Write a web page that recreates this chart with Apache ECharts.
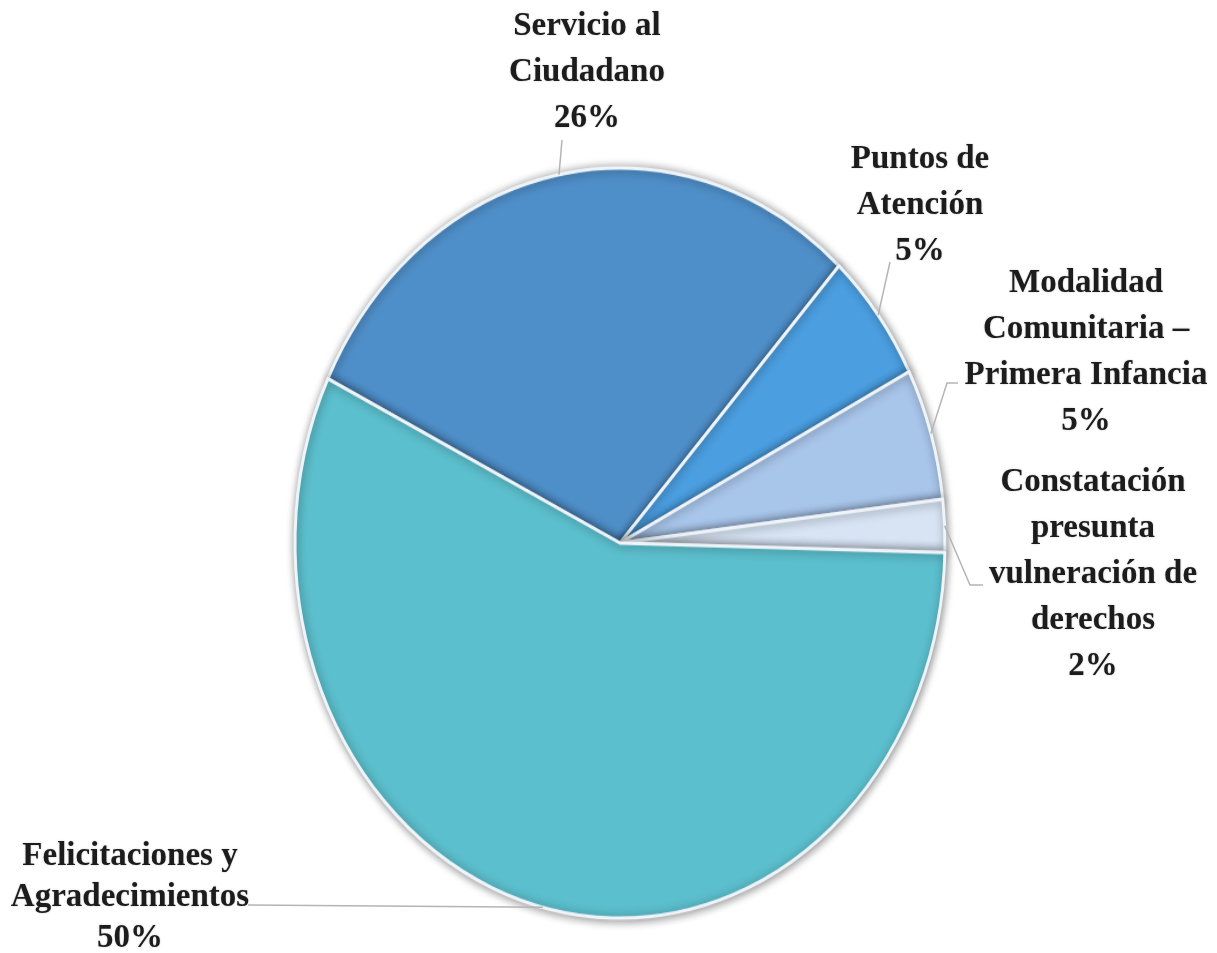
<!DOCTYPE html>
<html><head><meta charset="utf-8">
<script src="https://cdn.jsdelivr.net/npm/echarts@6/dist/echarts.min.js"></script>
<style>
html,body{margin:0;padding:0;background:#fff;}
#wrap{position:relative;width:1217px;height:953px;overflow:hidden;}
#pie{position:absolute;left:0;top:0;width:1217px;height:953px;transform-origin:620px 543px;transform:scaleY(1.154);}
#labels{position:absolute;left:0;top:0;width:1217px;height:953px;}
</style></head><body>
<div id="wrap"><div id="pie"></div><div id="labels"></div></div>
<script>
// ---- data ----
const categories = ['Servicio al\nCiudadano', 'Puntos de\nAtención', 'Modalidad\nComunitaria –\nPrimera Infancia', 'Constatación\npresunta\nvulneración de\nderechos', 'Felicitaciones y\nAgradecimientos'];
const values = [26, 5, 5, 2, 50];

// ---- styles / layout ----
const sliceColors = ['#4f8fc9', '#4b9ee0', '#a8c5ea', '#d8e4f4', '#5cbfcd'];
const CX = 620, CY = 543, R = 325, SY = 1.154, START = 154;
const labelLayoutPos = {
  center: [[587, 72], [920, 205], [1086, 352], [1093, 574], [130, 897]],
  elbow:  [[562, 140], [890, 262], [947, 383], [970, 585], [248, 905]],
  end:    [[562, 140], [890, 262], [958, 383], [983, 585], [248, 905]],
  lineHeight: [46, 46, 46, 46, 41]
};

const total = values.reduce((a, b) => a + b, 0);
function edgePoint(i) {
  let acc = 0;
  for (let k = 0; k < i; k++) acc += values[k];
  const mid = (START - (acc + values[i] / 2) / total * 360) * Math.PI / 180;
  return [CX + R * Math.cos(mid), CY - R * Math.sin(mid)];
}

const pieData = categories.map((c, i) => ({ name: c, value: values[i], itemStyle: { color: sliceColors[i] } }));

const pieChart = echarts.init(document.getElementById('pie'), null, { renderer: 'canvas' });
pieChart.setOption({
  animation: false,
  series: [{
    type: 'pie',
    center: [CX, CY],
    radius: R,
    startAngle: START,
    clockwise: true,
    avoidLabelOverlap: false,
    label: { show: false },
    labelLine: { show: false },
    itemStyle: {
      borderColor: '#eef4f9',
      borderWidth: 3,
      shadowBlur: 8,
      shadowColor: 'rgba(0,0,0,0.45)',
      shadowOffsetX: 1,
      shadowOffsetY: 1
    },
    emphasis: { disabled: true },
    data: pieData
  }]
});

const labelChart = echarts.init(document.getElementById('labels'), null, { renderer: 'canvas' });
labelChart.setOption({
  animation: false,
  series: [{
    type: 'pie',
    center: [CX, CY],
    radius: R,
    startAngle: START,
    clockwise: true,
    silent: true,
    avoidLabelOverlap: false,
    itemStyle: { color: 'rgba(0,0,0,0)', borderWidth: 0 },
    label: {
      show: true,
      position: 'outside',
      formatter: p => p.name + '\n' + p.value + '%',
      fontFamily: 'Liberation Serif',
      fontWeight: 'bold',
      fontSize: 33,
      lineHeight: 46,
      color: '#1c1c1c',
      align: 'center',
      textShadowColor: 'rgba(0,0,0,0.25)',
      textShadowBlur: 2
    },
    labelLine: { show: true, length: 10, length2: 10, lineStyle: { color: '#b4b4b4', width: 1.5 } },
    labelLayout: function (params) {
      const i = params.dataIndex;
      let p0;
      if (params.labelLinePoints && params.labelLinePoints[0]) {
        p0 = [params.labelLinePoints[0][0], params.labelLinePoints[0][1]];
      } else {
        p0 = edgePoint(i);
      }
      p0 = [p0[0], CY + (p0[1] - CY) * SY];
      return {
        x: labelLayoutPos.center[i][0],
        y: labelLayoutPos.center[i][1],
        align: 'center',
        verticalAlign: 'middle',
        labelLinePoints: [p0, labelLayoutPos.elbow[i], labelLayoutPos.end[i]]
      };
    },
    emphasis: { disabled: true },
    data: categories.map((c, i) => ({ name: c, value: values[i], label: { lineHeight: labelLayoutPos.lineHeight[i] } }))
  }]
});
</script>
</body></html>
